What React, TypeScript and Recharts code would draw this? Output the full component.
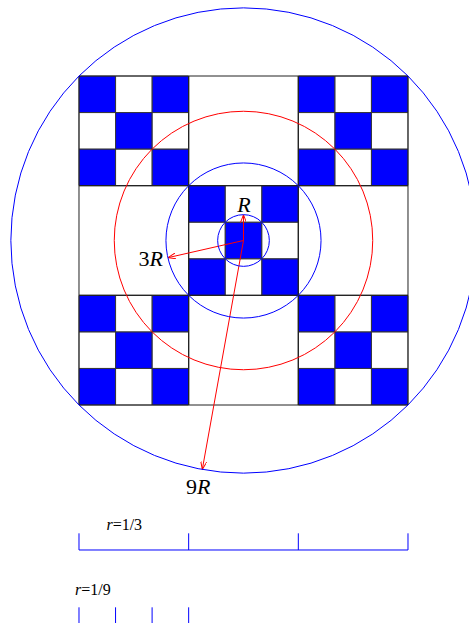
import React from 'react';
import { ScatterChart, Scatter, XAxis, YAxis, ReferenceArea, ReferenceLine } from 'recharts';

// one unit = one small cell of the 9x9 grid
const W = 469;
const H = 623;
const X_DOMAIN = [-2.161, 10.669];
const Y_DOMAIN = [-2.079, 14.963];
const PX = W / (X_DOMAIN[1] - X_DOMAIN[0]);

const CENTER = { x: 4.5, y: 4.5 };
const R_UNITS = Math.SQRT1_2; // circumradius of the centre cell

// 3x3 positions of the X pattern (corners + centre), used at both levels
const BLOCKS = [[0, 0], [1, 0], [2, 0], [0, 1], [1, 1], [2, 1], [0, 2], [1, 2], [2, 2]];
const FILLED_BLOCKS = [[0, 0], [2, 0], [1, 1], [0, 2], [2, 2]];
const PATTERN = [[0, 0], [2, 0], [1, 1], [0, 2], [2, 2]];

const CIRCLES = [
  { x: 4.5, y: 4.5, mult: 1, color: '#0000ff' },
  { x: 4.5, y: 4.5, mult: 3, color: '#0000ff' },
  { x: 4.5, y: 4.5, mult: 5, color: '#ff0000' },
  { x: 4.5, y: 4.5, mult: 9, color: '#0000ff' },
];

// screen angle in degrees (y down)
const ARROWS = [
  { mult: 1, angle: -90 },
  { mult: 3, angle: 167.2 },
  { mult: 9, angle: 100.2 },
];

const LABELS = [
  { x: 4.51, y: 3.71, anchor: 'middle', size: 22, parts: [{ t: 'R', i: true }] },
  { x: 2.3, y: 5.21, anchor: 'end', size: 22, parts: [{ t: '3' }, { t: 'R', i: true }] },
  { x: 3.26, y: 11.43, anchor: 'middle', size: 22, parts: [{ t: '9' }, { t: 'R', i: true }] },
  { x: 0.75, y: 12.42, anchor: 'start', size: 16, parts: [{ t: 'r', i: true }, { t: '=1/3' }] },
  { x: -0.11, y: 14.2, anchor: 'start', size: 16, parts: [{ t: 'r', i: true }, { t: '=1/9' }] },
];

const SCALES = [
  { ticks: [0, 3, 6, 9], base: 12.966 },
  { ticks: [0, 1, 2, 3], base: 14.99 },
];
const TICK_H = 0.456;

const BLUE = '#0000ff';
const RED = '#ff0000';
const FONT = "'Liberation Serif', 'Times New Roman', serif";

const rad = (d: number) => (d * Math.PI) / 180;

export default function App() {
  const blueCells: { x: number; y: number }[] = [];
  const gridCells: { x: number; y: number }[] = [];
  FILLED_BLOCKS.forEach(([bx, by]) => {
    BLOCKS.forEach(([cx, cy]) => gridCells.push({ x: bx * 3 + cx, y: by * 3 + cy }));
    PATTERN.forEach(([cx, cy]) => blueCells.push({ x: bx * 3 + cx, y: by * 3 + cy }));
  });

  return (
    <div style={{ position: 'absolute', left: 0, top: 0, width: W, height: H }}>
      <svg width={0} height={0} style={{ position: 'absolute' }}>
        <defs>
          <marker id="arrow" viewBox="0 0 8 6" refX={8} refY={3} markerWidth={8} markerHeight={6}
            markerUnits="userSpaceOnUse" orient="auto">
            <path d="M0,0 L8,3 L0,6" fill="none" stroke={RED} strokeWidth={1} />
          </marker>
        </defs>
      </svg>
      <ScatterChart width={W} height={H} margin={{ top: 0, right: 0, bottom: 0, left: 0 }}>
        <XAxis type="number" dataKey="x" domain={X_DOMAIN} allowDataOverflow hide />
        <YAxis type="number" dataKey="y" domain={Y_DOMAIN} allowDataOverflow reversed hide />

        {blueCells.map((c, i) => (
          <ReferenceArea key={`b${i}`} x1={c.x} x2={c.x + 1} y1={c.y} y2={c.y + 1}
            fill={BLUE} fillOpacity={1} stroke="none" ifOverflow="visible" />
        ))}
        {gridCells.map((c, i) => (
          <ReferenceArea key={`g${i}`} x1={c.x} x2={c.x + 1} y1={c.y} y2={c.y + 1}
            fill="none" stroke="#333" strokeWidth={0.8} ifOverflow="visible" />
        ))}
        {BLOCKS.map(([bx, by], i) => (
          <ReferenceArea key={`k${i}`} x1={bx * 3} x2={bx * 3 + 3} y1={by * 3} y2={by * 3 + 3}
            fill="none" stroke="#222" strokeWidth={1} ifOverflow="visible" />
        ))}

        {ARROWS.map((a, i) => (
          <ReferenceLine key={`a${i}`} ifOverflow="visible"
            segment={[
              { x: CENTER.x, y: CENTER.y },
              {
                x: CENTER.x + a.mult * R_UNITS * Math.cos(rad(a.angle)),
                y: CENTER.y + a.mult * R_UNITS * Math.sin(rad(a.angle)),
              },
            ]}
            shape={(p: any) => (
              <line x1={p.x1} y1={p.y1} x2={p.x2} y2={p.y2} stroke={RED} strokeWidth={1} markerEnd="url(#arrow)" />
            )}
          />
        ))}

        {SCALES.map((s, si) => (
          <ReferenceLine key={`s${si}`} ifOverflow="visible" stroke={BLUE} strokeWidth={1}
            segment={[{ x: s.ticks[0], y: s.base }, { x: s.ticks[s.ticks.length - 1], y: s.base }]} />
        ))}
        {SCALES.map((s, si) =>
          s.ticks.map((t, ti) => (
            <ReferenceLine key={`t${si}-${ti}`} ifOverflow="visible" stroke={BLUE} strokeWidth={1}
              segment={[{ x: t, y: s.base - TICK_H }, { x: t, y: s.base }]} />
          ))
        )}

        <Scatter data={CIRCLES} isAnimationActive={false}
          shape={(p: any) => (
            <circle cx={p.cx} cy={p.cy} r={p.payload.mult * R_UNITS * PX} fill="none"
              stroke={p.payload.color} strokeWidth={1} />
          )}
        />
        <Scatter data={LABELS} isAnimationActive={false}
          shape={(p: any) => (
            <text x={p.cx} y={p.cy} textAnchor={p.payload.anchor}
              style={{ fontFamily: FONT, fontSize: p.payload.size }} fill="#000">
              {p.payload.parts.map((q: any, j: number) => (
                <tspan key={j} style={{ fontStyle: q.i ? 'italic' : 'normal' }}>{q.t}</tspan>
              ))}
            </text>
          )}
        />
      </ScatterChart>
    </div>
  );
}
